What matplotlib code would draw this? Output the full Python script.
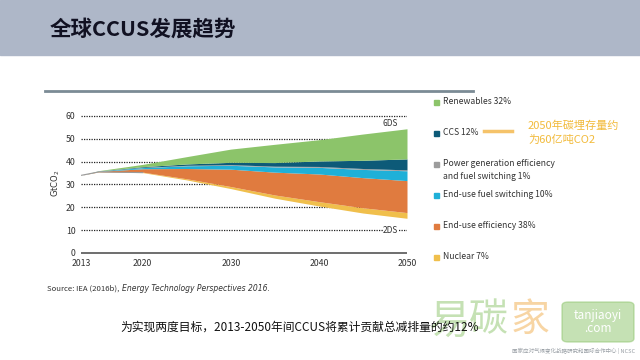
import matplotlib
matplotlib.use('Agg')
import matplotlib.pyplot as plt
from matplotlib.patches import Rectangle, FancyBboxPatch

plt.rcParams['font.family'] = ['Noto Sans CJK SC', 'DejaVu Sans']

years = [2013, 2015, 2020, 2025, 2030, 2035, 2040, 2045, 2050]
base_2ds = [34.0, 35.5, 35.2, 32.0, 28.2, 24.0, 20.6, 17.5, 15.2]
nuclear = [0, 0.05, 0.2, 0.5, 0.9, 1.4, 1.9, 2.3, 2.5]
enduse_eff = [0, 0.2, 1.5, 4.5, 7.6, 10.0, 12.1, 13.2, 14.0]
enduse_fuel = [0, 0.1, 0.5, 1.2, 1.7, 2.3, 2.9, 3.6, 4.3]
power_gen = [0, 0.05, 0.1, 0.2, 0.3, 0.3, 0.4, 0.4, 0.4]
ccs = [0, 0.05, 0.3, 0.6, 1.0, 1.6, 2.4, 3.6, 4.8]
renewables = [0, 0.1, 1.0, 3.2, 5.8, 8.0, 9.3, 11.5, 13.2]

# bottom to top
layer_names = ['Nuclear 7%', 'End-use efficiency 38%', 'End-use fuel switching 10%',
               'Power generation efficiency\nand fuel switching 1%',
               'CCS 12%', 'Renewables 32%']
layer_colors = ['#f0bf4c', '#e07b3f', '#1fb0d8', '#9c9c9c', '#0d5a78', '#8cc46a']
x_ticks = [2013, 2020, 2030, 2040, 2050]
y_ticks = [0, 10, 20, 30, 40, 50, 60]


def fy(px):
    # pixel row -> figure fraction
    return 1 - px / 360


fig = plt.figure(figsize=(6.4, 3.6), dpi=100)

# header band
fig.patches.append(Rectangle((0, fy(55)), 1, 55 / 360, transform=fig.transFigure,
                             color='#aeb7c8', zorder=0))
fig.text(50 / 640, fy(29), '全球CCUS发展趋势', fontsize=15.5, fontweight='bold',
         color='#111122', va='center', ha='left')

# thin rule above the chart
fig.add_artist(plt.Line2D([45 / 640, 473 / 640], [fy(91)] * 2,
                          transform=fig.transFigure, color='#7b8b95', lw=2))

ax = fig.add_axes([81 / 640, fy(253), 326 / 640, 139.3 / 360])
ax.set_xlim(2013, 2050)
ax.set_ylim(0, 61)
for s in ax.spines.values():
    s.set_visible(False)

ax.hlines(y_ticks[1:], 2013, 2050, colors='#222222', linestyles=(0, (1, 1)), lw=0.9, zorder=1)
ax.hlines(0, 2013, 2050, colors='#555555', lw=1.2, zorder=1, clip_on=False)

layers = [nuclear, enduse_eff, enduse_fuel, power_gen, ccs, renewables]
lower = list(base_2ds)
for vals, col in zip(layers, layer_colors):
    upper = [a + b for a, b in zip(lower, vals)]
    ax.fill_between(years, lower, upper, color=col, lw=0, zorder=2)
    lower = upper
ax.plot(years[:3], base_2ds[:3], color='#9a9a9a', lw=0.8, zorder=3)

ax.text(2049, 56.5, '6DS', fontsize=6, color='#333333', ha='right', va='center')
ax.text(2049, 10, '2DS', fontsize=6, color='#333333', ha='right', va='center',
        bbox=dict(facecolor='white', edgecolor='none', pad=0.3))

ax.set_xticks(x_ticks)
ax.set_yticks(y_ticks)
ax.tick_params(length=0, labelsize=6.3, colors='#333333', pad=4)
ax.set_ylabel('GtCO$_2$', fontsize=6, color='#333333', labelpad=3,
              fontfamily='DejaVu Sans')

# legend, top to bottom
leg_rows = [102, 133, 164, 195, 226, 257]
for name, col, yy in zip(layer_names[::-1], layer_colors[::-1], leg_rows):
    fig.patches.append(Rectangle((434 / 640, fy(yy + 2.5)), 5 / 640, 5 / 360,
                                 transform=fig.transFigure, color=col))
    fig.text(443 / 640, fy(yy - 5), name, fontsize=6.2, color='#333333',
             va='top', ha='left', linespacing=1.6)

fig.add_artist(plt.Line2D([484 / 640, 512 / 640], [fy(131)] * 2,
                          transform=fig.transFigure, color='#f5c36a', lw=2.5))
fig.text(528 / 640, fy(133), '2050年碳埋存量约\n为60亿吨CO2', fontsize=8,
         color='#f2bb3c', va='center', ha='left', linespacing=1.4)

fig.text(47 / 640, fy(291), 'Source: IEA (2016b), ', fontsize=5.6, color='#333333',
         va='baseline', ha='left')
fig.text(122 / 640, fy(291), 'Energy Technology Perspectives 2016.', fontsize=5.5,
         color='#333333', va='baseline', ha='left', style='italic', fontfamily='DejaVu Sans')

# watermark
fig.text(428 / 640, fy(322), '易', fontsize=30, color='#8cc46a', alpha=0.5,
         va='center', ha='left')
fig.text(469 / 640, fy(320), '碳', fontsize=28, color='#8cc46a', alpha=0.5,
         va='center', ha='left')
fig.text(511 / 640, fy(320), '家', fontsize=28, color='#f2b35a', alpha=0.55,
         va='center', ha='left')
fig.patches.append(FancyBboxPatch((562 / 640, fy(342)), 72 / 640, 40 / 360,
                                  boxstyle='round,pad=0,rounding_size=0.01',
                                  transform=fig.transFigure, color='#8cc46a', alpha=0.5))
fig.text(598 / 640, fy(322), 'tanjiaoyi\n.com', fontsize=8.5, color='white',
         va='center', ha='center', linespacing=0.95)
fig.text(635 / 640, fy(351), '国家应对气候变化战略研究和国际合作中心 | NCSC', fontsize=4,
         color='#9aa0a6', va='center', ha='right')

fig.text(300 / 640, fy(327), '为实现两度目标，2013-2050年间CCUS将累计贡献总减排量的约12%',
         fontsize=8.5, color='#111111', va='center', ha='center')

fig.savefig('out.png', dpi=100)
